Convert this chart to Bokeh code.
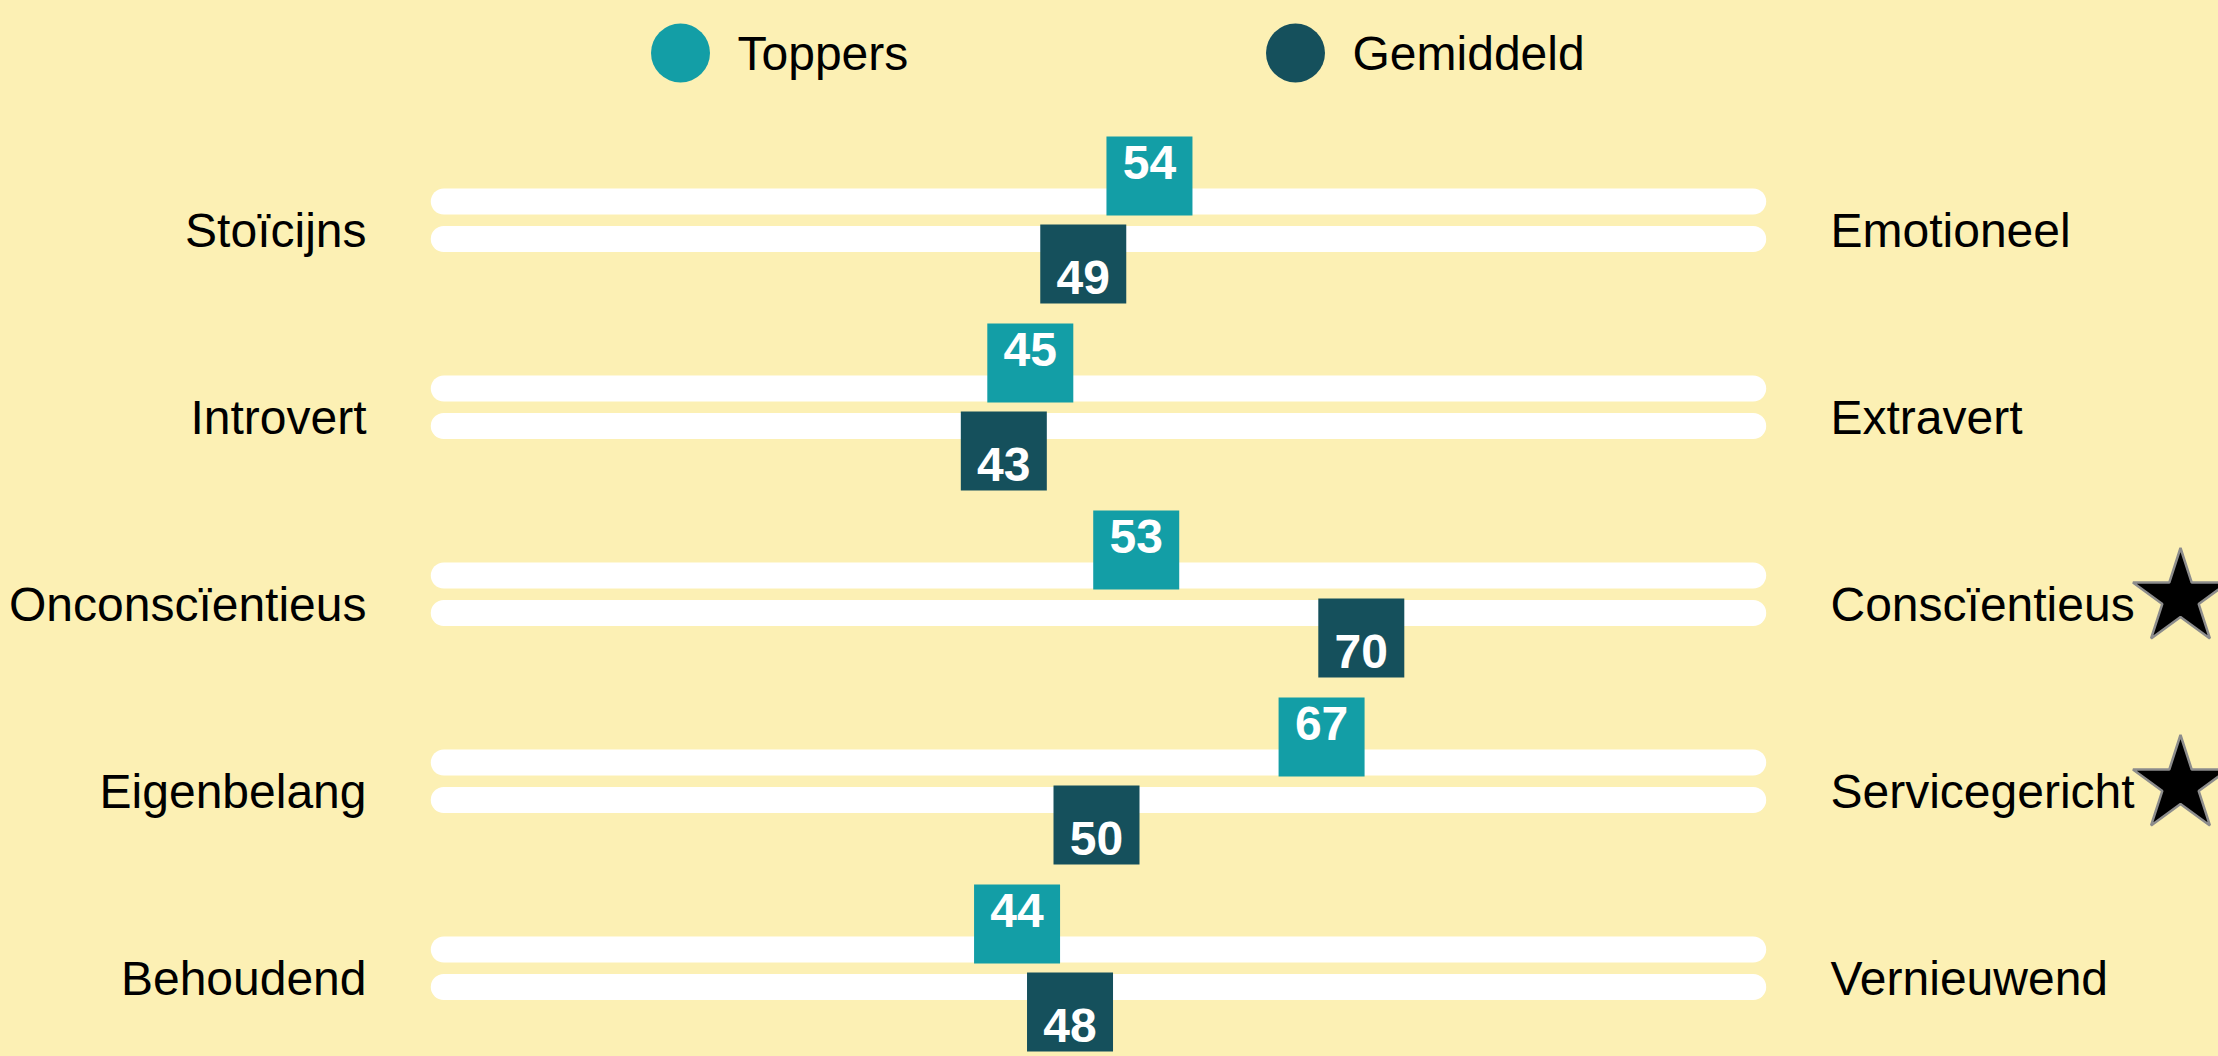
from bokeh.plotting import figure
from bokeh.models import Range1d, ColumnDataSource
from bokeh.core.properties import value
from bokeh.embed import file_html
from bokeh.resources import INLINE

# ---------------- data ----------------
left_labels = ["Stoïcijns", "Introvert", "Onconscïentieus", "Eigenbelang", "Behoudend"]
right_labels = ["Emotioneel", "Extravert", "Conscïentieus", "Servicegericht", "Vernieuwend"]
toppers = [54, 45, 53, 67, 44]
gemiddeld = [49, 43, 70, 50, 48]
starred = [False, False, True, True, False]
series_names = ["Toppers", "Gemiddeld"]

# ---------------- style ----------------
BG = "#FCF0B4"
C_TOP = "#139EA6"
C_AVG = "#15505C"
FONT = value("Liberation Sans")

W, H = 2218, 1056
PX = 13.24          # screen px per value unit
X0 = 434            # screen px of value 0
PY = 187.0          # screen px per row
Y0 = 219.5          # screen px of first row centre
TXT = 18            # baseline correction (px)

def dx(px):
    return px / PX

def dy(px):
    return px / PY

x_start = -X0 / PX
x_end = x_start + W / PX
y_top = -Y0 / PY
y_bottom = y_top + H / PY

p = figure(width=W, height=H, output_backend="svg", toolbar_location=None,
           x_range=Range1d(x_start, x_end), y_range=Range1d(y_bottom, y_top),
           min_border=0, background_fill_color=BG, border_fill_color=BG,
           outline_line_color=None)
p.axis.visible = False
p.grid.visible = False

rows = list(range(len(left_labels)))

# tracks
track_src = ColumnDataSource(dict(
    x0=[0.7] * len(rows) * 2,
    x1=[99.6] * len(rows) * 2,
    y=[r - dy(18.5) for r in rows] + [r + dy(19) for r in rows],
))
p.segment(x0="x0", y0="y", x1="x1", y1="y", source=track_src,
          line_color="white", line_width=26, line_cap="round")

# boxes
p.rect(x=toppers, y=[r - dy(44) for r in rows], width=86, height=79,
       width_units="screen", height_units="screen",
       fill_color=C_TOP, line_color=None)
p.rect(x=gemiddeld, y=[r + dy(44) for r in rows], width=86, height=79,
       width_units="screen", height_units="screen",
       fill_color=C_AVG, line_color=None)

# value labels
p.text(x=toppers, y=[r - dy(39.5 + TXT) for r in rows], text=[str(v) for v in toppers],
       text_color="white", text_font=FONT, text_font_size="48px",
       text_font_style="bold", text_align="center", text_baseline="alphabetic")
p.text(x=gemiddeld, y=[r + dy(75.5 - TXT) for r in rows], text=[str(v) for v in gemiddeld],
       text_color="white", text_font=FONT, text_font_size="48px",
       text_font_style="bold", text_align="center", text_baseline="alphabetic")

# side labels
p.text(x=[dx(366 - X0)] * len(rows), y=[r + dy(28.5 - TXT) for r in rows], text=left_labels,
       text_color="black", text_font=FONT, text_font_size="48px",
       text_align="right", text_baseline="alphabetic")
p.text(x=[dx(1830 - X0)] * len(rows), y=[r + dy(28.5 - TXT) for r in rows], text=right_labels,
       text_color="black", text_font=FONT, text_font_size="48px",
       text_align="left", text_baseline="alphabetic")

# stars
star_rows = [r for r, s in zip(rows, starred) if s]
p.scatter(x=[dx(2180 - X0)] * len(star_rows), y=[r + dy(4) for r in star_rows],
          marker="star", size=100, fill_color="black", line_color="#8C8C8C", line_width=2.5)

# legend (manual)
leg_y = dy(52.5 - Y0)
leg_ty = dy(71 - TXT - Y0)
p.scatter(x=[dx(680 - X0), dx(1295 - X0)], y=[leg_y, leg_y], size=59,
          fill_color=[C_TOP, C_AVG], line_color=None)
p.text(x=[dx(737 - X0), dx(1352 - X0)], y=[leg_ty, leg_ty], text=series_names,
       text_color="black", text_font=FONT, text_font_size="48px",
       text_align="left", text_baseline="alphabetic")

html = file_html(p, INLINE)
html = html.replace("<head>", "<head><style>body{background:%s;}</style>" % BG, 1)
open("out.html", "w").write(html)
